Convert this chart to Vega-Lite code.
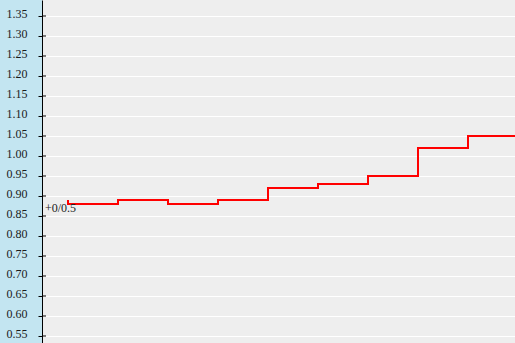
{
  "$schema": "https://vega.github.io/schema/vega-lite/v6.json",
  "width": 473,
  "height": 343,
  "autosize": {"type": "none"},
  "padding": {"left": 42, "top": 0, "right": 0, "bottom": 0},
  "background": "#c3e5f1",
  "config": {
    "view": {"fill": "#eeeeee", "stroke": null},
    "font": "Liberation Serif"
  },
  "datasets": {
    "series": [
      {"period": 0, "value": 0.89},
      {"period": 1, "value": 0.88},
      {"period": 2, "value": 0.89},
      {"period": 3, "value": 0.88},
      {"period": 4, "value": 0.89},
      {"period": 5, "value": 0.92},
      {"period": 6, "value": 0.93},
      {"period": 7, "value": 0.95},
      {"period": 8, "value": 1.02},
      {"period": 9, "value": 1.05}
    ],
    "ticks": [
      {"value": 0.55}, {"value": 0.6}, {"value": 0.65}, {"value": 0.7}, {"value": 0.75},
      {"value": 0.8}, {"value": 0.85}, {"value": 0.9}, {"value": 0.95}, {"value": 1.0},
      {"value": 1.05}, {"value": 1.1}, {"value": 1.15}, {"value": 1.2}, {"value": 1.25},
      {"value": 1.3}, {"value": 1.35}
    ],
    "notes": [
      {"period": -0.46, "value": 0.86, "label": "+0/0.5"}
    ]
  },
  "layer": [
    {
      "data": {"name": "series"},
      "mark": {"type": "line", "interpolate": "step-before", "color": "#ff0000", "strokeWidth": 2, "clip": true},
      "encoding": {
        "x": {"field": "period", "type": "quantitative", "scale": {"domain": [-0.52, 8.94], "nice": false, "zero": false}, "axis": null},
        "y": {
          "field": "value", "type": "quantitative",
          "scale": {"domain": [0.5325, 1.39], "nice": false, "zero": false},
          "axis": {
            "orient": "left",
            "title": null,
            "values": [0.55, 0.6, 0.65, 0.7, 0.75, 0.8, 0.85, 0.9, 0.95, 1.0, 1.05, 1.1, 1.15, 1.2, 1.25, 1.3, 1.35],
            "tickCount": 40,
            "format": ".2f",
            "domainColor": "#000000",
            "domainWidth": 1,
            "tickColor": "#000000",
            "tickSize": 4,
            "tickWidth": 1,
            "labelFont": "Liberation Serif",
            "labelFontSize": 12,
            "labelColor": "#1a1a1a",
            "labelPadding": 11,
            "labelBaseline": "alphabetic",
            "labelOffset": 1,
            "labelFlush": false,
            "labelOverlap": false,
            "grid": true,
            "gridColor": "#ffffff",
            "gridWidth": 1,
            "gridOpacity": 1
          }
        }
      }
    },
    {
      "data": {"name": "ticks"},
      "mark": {"type": "rule", "color": "#000000", "strokeWidth": 1},
      "encoding": {
        "x": {"datum": -0.52},
        "x2": {"datum": -0.44},
        "y": {"field": "value", "type": "quantitative"}
      }
    },
    {
      "data": {"name": "notes"},
      "mark": {"type": "text", "align": "left", "baseline": "alphabetic", "font": "Liberation Serif", "fontSize": 12, "color": "#222222"},
      "encoding": {
        "x": {"field": "period", "type": "quantitative"},
        "y": {"field": "value", "type": "quantitative"},
        "text": {"field": "label", "type": "nominal"}
      }
    }
  ]
}
